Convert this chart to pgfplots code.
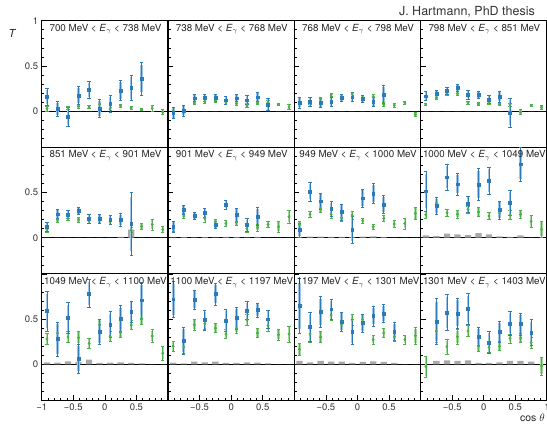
\documentclass[border=0pt]{standalone}
\usepackage{fontspec}
\setmainfont{TeX Gyre Heros}
\usepackage{pgfplots}
\usepackage{pgfplotstable}
\pgfplotsset{compat=1.18}

\definecolor{bdark}{HTML}{2B7BBA}
\definecolor{blight}{HTML}{9EC4E6}
\definecolor{gdark}{HTML}{4DAF4A}
\definecolor{glight}{HTML}{A6DBA0}
\definecolor{sysgray}{HTML}{A9A9A9}

\pgfplotstableread{
x g ge b be s
-0.9167 0.026 0.025 0.158 0.09 0
-0.75 0.02 0.02 0.026 0.08 0
-0.5833 0.037 0.02 -0.063 0.10 0
-0.4167 0.055 0.02 0.17 0.10 0
-0.25 0.044 0.015 0.235 0.09 0
-0.0833 0.077 0.02 0.03 0.10 0
0.0833 0.025 0.02 0.08 0.09 0
0.25 0.06 0.015 0.228 0.11 0
0.4167 0.037 0.015 0.258 0.14 0
0.5833 0.02 0.015 0.36 0.18 0
0.75 0.033 0.03 nan nan 0
0.9167 -0.01 0.03 nan nan 0
}\tA
\pgfplotstableread{
x g ge b be s
-0.9167 0.0 0.02 -0.02 0.06 0
-0.75 0.01 0.02 0.007 0.06 0
-0.5833 0.09 0.02 0.144 0.04 0
-0.4167 0.107 0.02 0.147 0.04 0
-0.25 0.12 0.02 0.15 0.04 0
-0.0833 0.09 0.02 0.12 0.04 0
0.0833 0.085 0.02 0.144 0.04 0
0.25 0.063 0.02 0.12 0.05 0
0.4167 0.09 0.02 0.155 0.05 0
0.5833 0.096 0.02 0.074 0.07 0
0.75 0.077 0.015 nan nan 0
0.9167 0.045 0.025 nan nan 0
}\tB
\pgfplotstableread{
x g ge b be s
-0.9167 0.08 0.02 0.092 0.06 0
-0.75 0.096 0.02 0.103 0.05 0
-0.5833 0.136 0.02 0.092 0.05 0
-0.4167 0.18 0.02 0.103 0.05 0
-0.25 0.13 0.02 0.147 0.04 0
-0.0833 0.19 0.02 0.155 0.05 0
0.0833 0.147 0.02 0.14 0.04 0
0.25 0.16 0.025 0.103 0.05 0
0.4167 0.074 0.02 0.184 0.10 0
0.5833 0.066 0.025 nan nan 0
0.75 0.092 0.015 nan nan 0
0.9167 -0.037 0.02 nan nan 0
}\tC
\pgfplotstableread{
x g ge b be s
-0.9167 0.077 0.015 0.166 0.05 0
-0.75 0.147 0.02 0.195 0.04 0
-0.5833 0.2 0.02 0.225 0.04 0
-0.4167 0.195 0.02 0.258 0.04 0
-0.25 0.092 0.015 0.184 0.05 0
-0.0833 0.08 0.015 0.18 0.04 0
0.0833 0.092 0.02 0.13 0.04 0
0.25 0.077 0.015 0.158 0.06 0
0.4167 0.07 0.02 -0.018 0.16 0.005
0.5833 -0.01 0.03 nan nan 0
0.75 0.063 0.015 nan nan 0
0.9167 0.044 0.02 nan nan 0
}\tD
\pgfplotstableread{
x g ge b be s
-0.9167 0.092 0.03 0.122 0.05 0
-0.75 0.2 0.025 0.26 0.05 0
-0.5833 0.214 0.025 0.258 0.04 0
-0.4167 0.2 0.03 0.298 0.04 0
-0.25 0.188 0.025 0.214 0.05 0
-0.0833 0.206 0.03 0.206 0.05 0
0.0833 0.177 0.03 0.195 0.05 0
0.25 0.195 0.03 0.195 0.07 0.01
0.4167 0.085 0.03 0.155 0.35 0.09
0.5833 0.125 0.03 nan nan 0
0.75 0.147 0.06 nan nan 0
0.9167 0.092 0.03 nan nan 0
}\tE
\pgfplotstableread{
x g ge b be s
-0.9167 0.1 0.03 0.122 0.06 0.005
-0.75 0.24 0.03 0.313 0.05 0.008
-0.5833 0.24 0.03 0.24 0.04 0.005
-0.4167 0.214 0.04 0.28 0.05 0.008
-0.25 0.177 0.03 0.147 0.04 0.005
-0.0833 0.158 0.03 0.368 0.05 0.01
0.0833 0.17 0.03 0.254 0.07 0.008
0.25 0.1 0.04 0.14 0.07 0.005
0.4167 0.114 0.04 0.232 0.10 0.01
0.5833 0.147 0.03 nan nan 0
0.75 0.122 0.06 nan nan 0
0.9167 0.232 0.07 nan nan 0
}\tF
\pgfplotstableread{
x g ge b be s
-0.9167 0.147 0.04 0.085 0.08 0.005
-0.75 0.26 0.03 0.508 0.10 0.012
-0.5833 0.324 0.04 0.405 0.09 0.012
-0.4167 0.26 0.04 0.32 0.08 0.01
-0.25 0.22 0.04 0.284 0.09 0.01
-0.0833 0.247 0.04 0.092 0.15 0.01
0.0833 0.188 0.03 0.438 0.10 0.012
0.25 0.122 0.03 0.49 0.11 0.015
0.4167 0.214 0.03 0.368 0.10 0.008
0.5833 0.151 0.04 nan nan 0
0.75 0.158 0.06 nan nan 0
0.9167 0.27 0.07 nan nan 0
}\tG
\pgfplotstableread{
x g ge b be s
-0.9167 0.254 0.04 0.515 0.22 0.026
-0.75 0.38 0.05 0.354 0.09 0.018
-0.5833 0.276 0.04 0.67 0.14 0.044
-0.4167 0.26 0.04 0.593 0.12 0.037
-0.25 0.313 0.04 0.372 0.09 0.03
-0.0833 0.284 0.05 0.59 0.18 0.052
0.0833 0.24 0.04 0.63 0.15 0.037
0.25 0.27 0.04 0.306 0.10 0.015
0.4167 0.25 0.05 0.387 0.14 0.01
0.5833 0.258 0.04 0.814 0.19 0.026
0.75 0.18 0.07 nan nan 0
0.9167 0.092 0.09 nan nan 0
}\tH
\pgfplotstableread{
x g ge b be s
-0.9167 0.28 0.06 0.589 0.22 0.022
-0.75 0.343 0.06 0.28 0.19 0.018
-0.5833 0.302 0.06 0.516 0.17 0.033
-0.4167 0.295 0.07 0.063 0.16 0.026
-0.25 0.232 0.06 0.785 0.15 0.052
-0.0833 0.435 0.06 0.36 0.14 0.015
0.0833 0.31 0.06 0.442 0.14 0.018
0.25 0.354 0.06 0.508 0.14 0.022
0.4167 0.435 0.05 0.582 0.12 0.015
0.5833 0.5 0.06 0.71 0.20 0.011
0.75 0.313 0.07 nan nan 0
0.9167 0.122 0.08 nan nan 0
}\tI
\pgfplotstableread{
x g ge b be s
-0.9167 0.2 0.06 0.72 0.20 0.018
-0.75 0.19 0.07 0.26 0.15 0.011
-0.5833 0.438 0.06 0.714 0.11 0.03
-0.4167 0.45 0.06 0.49 0.11 0.022
-0.25 0.4 0.05 0.777 0.12 0.03
-0.0833 0.335 0.05 0.486 0.12 0.015
0.0833 0.398 0.05 0.512 0.12 0.015
0.25 0.49 0.06 0.593 0.10 0.022
0.4167 0.346 0.05 0.6 0.08 0.018
0.5833 0.427 0.06 0.5 0.10 0.011
0.75 0.328 0.06 nan nan 0
0.9167 0.335 0.09 nan nan 0
}\tJ
\pgfplotstableread{
x g ge b be s
-0.9167 0.166 0.07 0.648 0.30 0.037
-0.75 0.335 0.09 0.416 0.16 0.022
-0.5833 0.302 0.06 0.582 0.17 0.037
-0.4167 0.545 0.06 0.61 0.11 0.03
-0.25 0.442 0.06 0.47 0.11 0.03
-0.0833 0.494 0.06 0.36 0.14 0.015
0.0833 0.497 0.06 0.457 0.10 0.026
0.25 0.273 0.05 0.534 0.11 0.033
0.4167 0.346 0.05 0.56 0.10 0.026
0.5833 0.306 0.05 0.365 0.10 0.015
0.75 0.273 0.05 nan nan 0
0.9167 0.317 0.09 nan nan 0
}\tK
\pgfplotstableread{
x g ge b be s
-0.9167 -0.026 0.12 nan nan 0
-0.75 0.368 0.12 0.475 0.25 0.037
-0.5833 0.195 0.08 0.575 0.20 0.044
-0.4167 0.306 0.08 0.564 0.17 0.037
-0.25 0.368 0.06 0.615 0.17 0.044
-0.0833 0.2 0.06 0.306 0.10 0.015
0.0833 0.188 0.06 0.24 0.12 0.015
0.25 0.2 0.05 0.36 0.12 0.022
0.4167 0.287 0.05 0.453 0.13 0.037
0.5833 0.29 0.05 0.446 0.12 0.037
0.75 0.24 0.06 0.354 0.14 0.03
0.9167 -0.018 0.1 nan nan 0
}\tL

\pgfplotsset{
  panel/.style={
    scale only axis, width=126.3pt, height=126.6pt, anchor=north west,
    xmin=-1, xmax=1, ymin=-0.4, ymax=1,
    axis line style={line width=1.1pt},
    tick style={black, line width=0.6pt},
    tick align=inside,
    xtick pos=bottom, ytick pos=left,
    ytick={0,0.5,1},
    minor ytick={-0.3,-0.2,-0.1,0.1,0.2,0.3,0.4,0.6,0.7,0.8,0.9},
    major tick length=5pt, minor tick length=2.5pt,
    xtick=\empty,
    yticklabels={,,},
    ticklabel style={font=\fontsize{9.5}{10}\selectfont, text=black!80},
  },
  bottomrow/.style={
    xtick={-1,-0.5,0,0.5,1},
    minor xtick={-0.9,-0.8,-0.7,-0.6,-0.4,-0.3,-0.2,-0.1,0.1,0.2,0.3,0.4,0.6,0.7,0.8,0.9},
  },
}

\newcommand{\lab}[2]{#1 MeV < \textit{E}$_{\gamma}$ < #2 MeV}

\newcommand{\panel}[5]{%
\begin{axis}[panel, at={(#3,#4)}, #5]
\draw[black, line width=1.1pt] (axis cs:-1,0) -- (axis cs:1,0);
\addplot[ybar, bar shift=0pt, bar width=0.1, fill=sysgray, draw=none] table[x=x,y=s]{#1};
\addplot[only marks, mark=*, mark size=1.1pt, gdark,
  error bars/.cd, y dir=both, y explicit,
  error bar style={line width=2.4pt, glight}, error mark=none]
  table[x=x, y=g, y error expr=0.85*\thisrow{ge}]{#1};
\addplot[only marks, mark=*, mark size=1.1pt, gdark,
  error bars/.cd, y dir=both, y explicit,
  error bar style={line width=0.6pt, gdark},
  error mark options={rotate=90, mark size=1.6pt, line width=0.6pt, gdark}]
  table[x=x, y=g, y error=ge]{#1};
\addplot[only marks, mark=square*, mark size=1.4pt, bdark,
  error bars/.cd, y dir=both, y explicit,
  error bar style={line width=2.6pt, blight}, error mark=none]
  table[x=x, y=b, y error expr=0.85*\thisrow{be}]{#1};
\addplot[only marks, mark=square*, mark size=1.4pt, bdark,
  error bars/.cd, y dir=both, y explicit,
  error bar style={line width=0.7pt, bdark},
  error mark options={rotate=90, mark size=1.6pt, line width=0.6pt, bdark}]
  table[x=x, y=b, y error=be]{#1};
\node[anchor=north, inner sep=0pt, font=\fontsize{9.8}{11}\selectfont, text=black!85]
  at ([xshift=0.6pt,yshift=-3.3pt]rel axis cs:0.5,1) {#2};
\end{axis}}

\begin{document}
\begin{tikzpicture}
\useasboundingbox (0pt,0pt) rectangle (547pt,-425pt);
% row 1
\panel{\tA}{\lab{700}{738}}{41.7pt}{-20.7pt}{yticklabels={0,0.5,1}}
\panel{\tB}{\lab{738}{768}}{168.0pt}{-20.7pt}{}
\panel{\tC}{\lab{768}{798}}{294.3pt}{-20.7pt}{}
\panel{\tD}{\lab{798}{851}}{420.6pt}{-20.7pt}{}
% row 2
\panel{\tE}{\lab{851}{901}}{41.7pt}{-147.3pt}{yticklabels={0,0.5,}}
\panel{\tF}{\lab{901}{949}}{168.0pt}{-147.3pt}{}
\panel{\tG}{\lab{949}{1000}}{294.3pt}{-147.3pt}{}
\panel{\tH}{\lab{1000}{1049}}{420.6pt}{-147.3pt}{}
% row 3
\panel{\tI}{\lab{1049}{1100}}{41.7pt}{-273.9pt}{bottomrow, yticklabels={0,0.5,}, xticklabels={−1,−0.5,0,0.5,}}
\panel{\tJ}{\lab{1100}{1197}}{168.0pt}{-273.9pt}{bottomrow, xticklabels={,−0.5,0,0.5,}}
\panel{\tK}{\lab{1197}{1301}}{294.3pt}{-273.9pt}{bottomrow, xticklabels={,−0.5,0,0.5,}}
\panel{\tL}{\lab{1301}{1403}}{420.6pt}{-273.9pt}{bottomrow, xticklabels={,−0.5,0,0.5,1}}
% texts
\node[anchor=base east, inner sep=0pt, font=\fontsize{12.5}{14}\selectfont, text=black!80] at (535pt,-16pt) {J. Hartmann, PhD thesis};
\node[inner sep=0pt, font=\fontsize{11}{12}\selectfont\itshape, text=black!85] at (12pt,-33pt) {T};
\node[anchor=base east, inner sep=0pt, font=\fontsize{10.5}{12}\selectfont, text=black!85] at (545pt,-421pt) {cos $\theta$};
\end{tikzpicture}
\end{document}
